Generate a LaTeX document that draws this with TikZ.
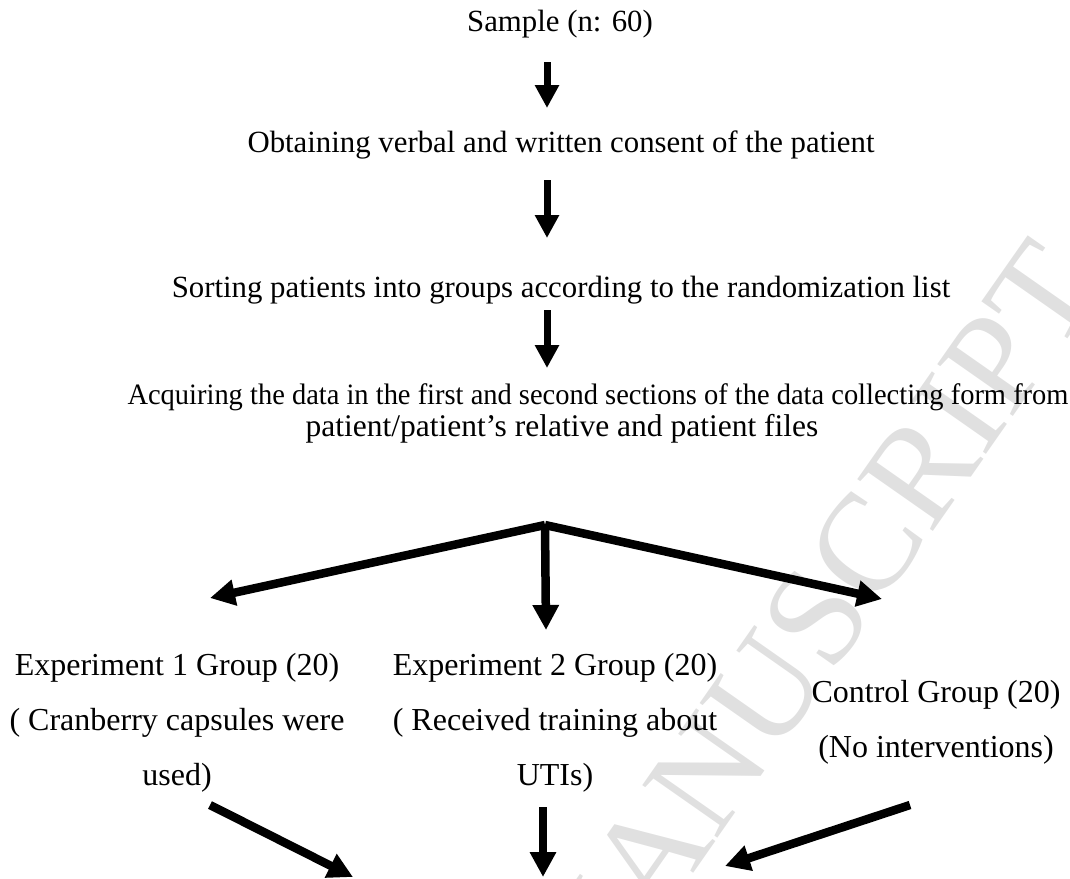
\documentclass[tikz,border=0pt]{standalone}
\usepackage{fontspec}
\setmainfont{Liberation Serif}
\usetikzlibrary{arrows.meta}
\begin{document}
\begin{tikzpicture}[x=1pt,y=-1pt,
  lbl/.style={anchor=base, inner sep=0pt, font=\fontsize{32}{38}\selectfont},
  toplbl/.style={anchor=base, inner sep=0pt, font=\fontsize{30.8}{36}\selectfont},
  thinarr/.style={line width=7pt, -{Triangle[width=23pt,length=23pt]}},
  thickarr/.style={line width=8.5pt, -{Triangle[width=25pt,length=25pt]}},
  wm/.style={text=black!12, font=\fontsize{140}{140}\selectfont, rotate=55, inner sep=0pt}]
\useasboundingbox (0,0) rectangle (1070,878);
\clip (0,0) rectangle (1070,878);
% watermark
\node[wm] (wmark) at (808,630) {MANUSCRIPT};
% texts
\node[toplbl] (sample) at (560,31) {Sample (n: 60)};
\node[toplbl] (consent) at (561,152) {Obtaining verbal and written consent of the patient};
\node[toplbl] (sort) at (561,297) {Sorting patients into groups according to the randomization list};
\node[toplbl, font=\fontsize{29.6}{36}\selectfont, xscale=0.962] (acq1) at (598,404) {Acquiring the data in the first and second sections of the data collecting form from};
\node[toplbl, font=\fontsize{31.5}{36}\selectfont] (acq2) at (562,436) {patient/patient’s relative and patient files};
\node[lbl] (e1a) at (177,675) {Experiment 1 Group (20)};
\node[lbl] (e1b) at (177,730) {( Cranberry capsules were};
\node[lbl] (e1c) at (177,785) {used)};
\node[lbl] (e2a) at (555,675) {Experiment 2 Group (20)};
\node[lbl] (e2b) at (555,730) {( Received training about};
\node[lbl] (e2c) at (555,785) {UTIs)};
\node[lbl] (cga) at (936,702) {Control Group (20)};
\node[lbl] (cgb) at (936,757) {(No interventions)};
% arrow end points
\coordinate (a1s) at (547,62);  \coordinate (a1e) at (547,108);
\coordinate (a2s) at (547,180); \coordinate (a2e) at (547,238);
\coordinate (a3s) at (547,310); \coordinate (a3e) at (547,368);
\coordinate (apex) at (545,525);
\coordinate (bl) at (210,598);
\coordinate (bm) at (546,630);
\coordinate (br) at (882,599);
\coordinate (c1s) at (210,805); \coordinate (c1e) at (353,877);
\coordinate (c2s) at (543,807); \coordinate (c2e) at (543,877);
\coordinate (c3s) at (910,805); \coordinate (c3e) at (725,866);
% arrows
\draw[thinarr] (a1s) -- (a1e);
\draw[thinarr] (a2s) -- (a2e);
\draw[thinarr] (a3s) -- (a3e);
\draw[thickarr] (apex) -- (bl);
\draw[thickarr] (apex) -- (bm);
\draw[thickarr] (apex) -- (br);
\draw[thickarr] (c1s) -- (c1e);
\draw[thickarr] (c2s) -- (c2e);
\draw[thickarr] (c3s) -- (c3e);
\end{tikzpicture}
\end{document}
